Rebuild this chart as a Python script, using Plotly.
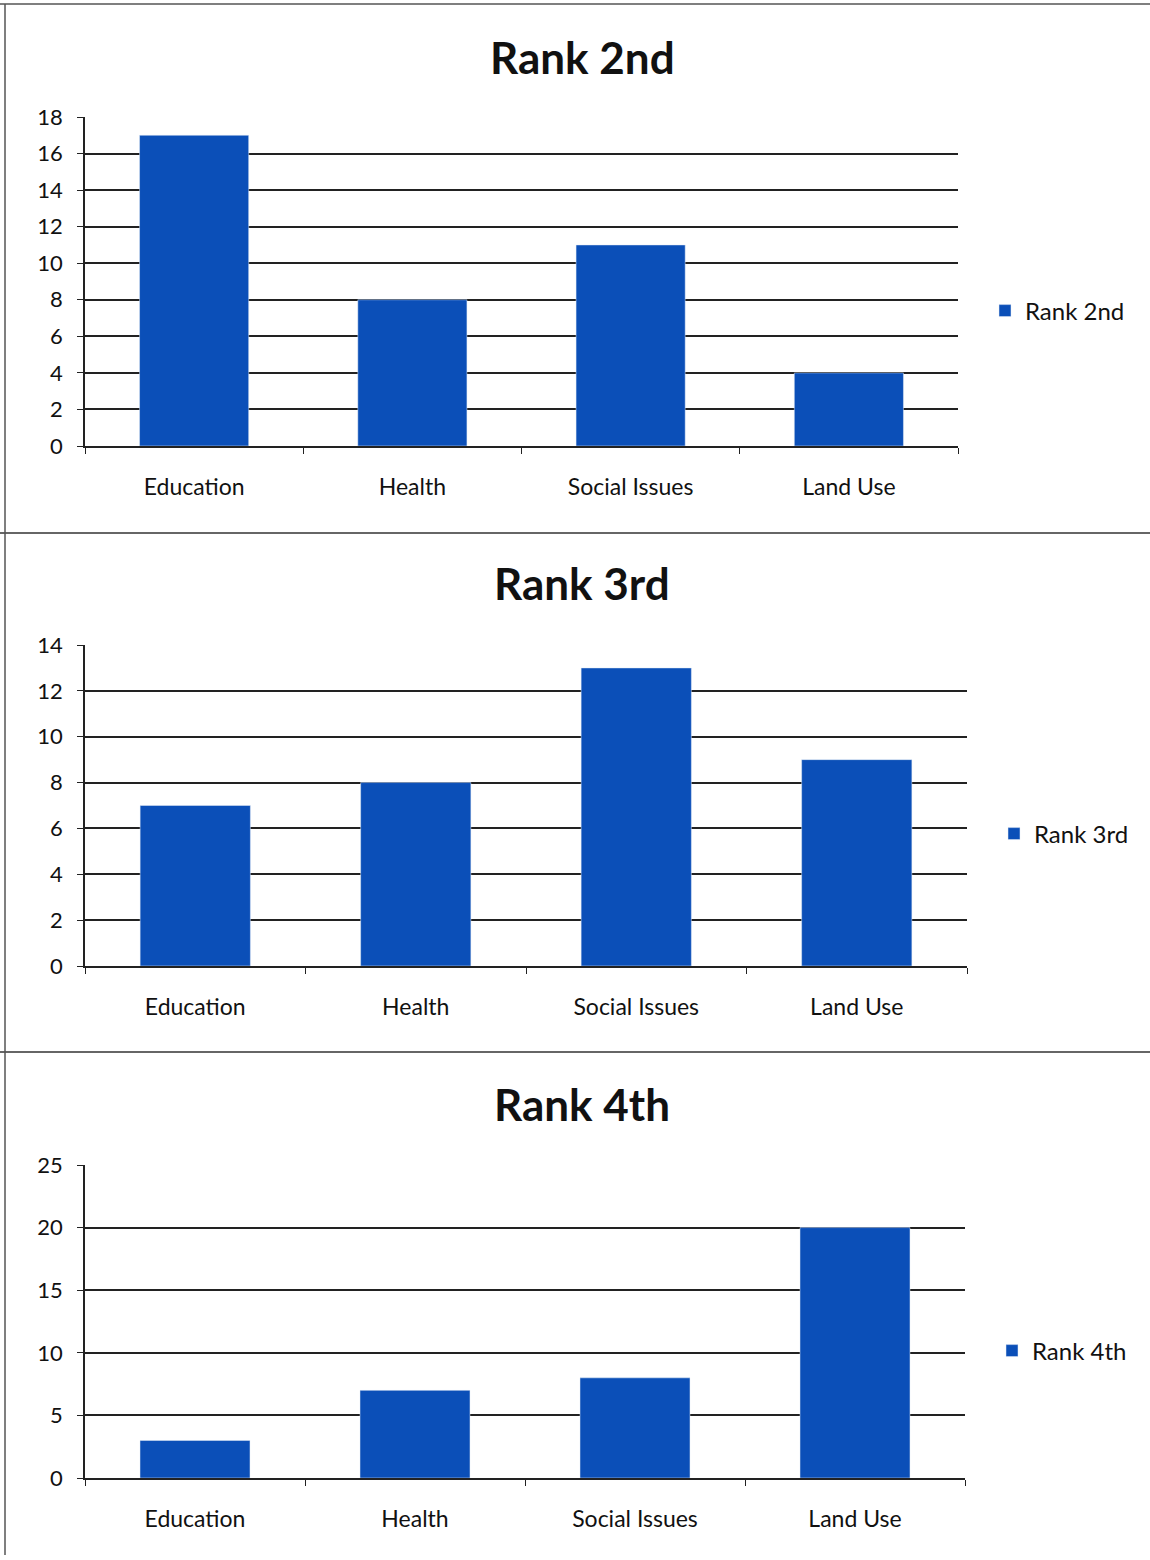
import plotly.graph_objects as go

categories = ["Education", "Health", "Social Issues", "Land Use"]
rank2 = [17, 8, 11, 4]
rank3 = [7, 8, 13, 9]
rank4 = [3, 7, 8, 20]
titles = ["Rank 2nd", "Rank 3rd", "Rank 4th"]

W, H = 1150, 1560
BAR = "#0B4FB8"
FONT = "Lato, Open Sans, sans-serif"

def px_y(y):
    return 1 - y / H

def px_x(x):
    return x / W

panels = [
    dict(vals=rank2, title=titles[0], x=(85, 958), y=(117, 446), ymax=18, dtick=2, ty=57, ly=311, lx=985),
    dict(vals=rank3, title=titles[1], x=(85, 967), y=(645, 966), ymax=14, dtick=2, ty=583, ly=834, lx=994),
    dict(vals=rank4, title=titles[2], x=(85, 965), y=(1165, 1478), ymax=25, dtick=5, ty=1104, ly=1351, lx=992),
]

fig = go.Figure()
annotations = []
layout = {}
for i, p in enumerate(panels, start=1):
    sfx = "" if i == 1 else str(i)
    leg = "legend" if i == 1 else f"legend{i}"
    fig.add_trace(go.Bar(
        x=categories, y=p["vals"], name=p["title"], marker_color=BAR,
        width=0.5, xaxis=f"x{sfx}", yaxis=f"y{sfx}", legend=leg, showlegend=True,
    ))
    layout[f"xaxis{sfx}"] = dict(
        domain=[px_x(p["x"][0]), px_x(p["x"][1])], anchor=f"y{sfx}",
        showline=True, linecolor="#222", linewidth=1.5,
        ticks="outside", tickson="boundaries", ticklen=6, tickcolor="#222",
        tickfont=dict(family=FONT, size=23, color="#111"), showgrid=False,
        ticklabelstandoff=20, automargin=False,
    )
    layout[f"yaxis{sfx}"] = dict(
        domain=[px_y(p["y"][1]), px_y(p["y"][0])], anchor=f"x{sfx}",
        range=[0, p["ymax"]], dtick=p["dtick"], showline=True, linecolor="#222", linewidth=1.5,
        ticks="outside", ticklen=6, tickcolor="#222", showgrid=True, gridcolor="#222", gridwidth=1.5,
        tickfont=dict(family=FONT, size=22, color="#111"), zeroline=False,
        ticklabelstandoff=10, automargin=False,
    )
    layout[leg] = dict(
        x=px_x(p["lx"]), y=px_y(p["ly"]), xanchor="left", yanchor="middle",
        font=dict(family=FONT, size=24, color="#111"), bgcolor="rgba(0,0,0,0)",
        itemwidth=30,
    )
    annotations.append(dict(
        text=f"<b>{p['title']}</b>", x=px_x(582), y=px_y(p["ty"]), xref="paper", yref="paper",
        xanchor="center", yanchor="middle", showarrow=False,
        font=dict(family=FONT, size=44, color="#111"),
    ))

shapes = [
    dict(type="line", xref="paper", yref="paper", x0=0, x1=1, y0=px_y(4), y1=px_y(4), line=dict(color="#555", width=1.5)),
    dict(type="line", xref="paper", yref="paper", x0=0, x1=1, y0=px_y(533), y1=px_y(533), line=dict(color="#333", width=1.5)),
    dict(type="line", xref="paper", yref="paper", x0=0, x1=1, y0=px_y(1052), y1=px_y(1052), line=dict(color="#333", width=1.5)),
    dict(type="line", xref="paper", yref="paper", x0=px_x(5), x1=px_x(5), y0=px_y(4), y1=px_y(1555), line=dict(color="#555", width=1.5)),
]

fig.update_layout(
    width=W, height=H, margin=dict(l=0, r=0, t=0, b=0),
    plot_bgcolor="white", paper_bgcolor="white",
    annotations=annotations, shapes=shapes, bargap=0.5,
    **layout,
)
fig.write_html("out.html", config={"displayModeBar": False},
               post_script="document.body.style.margin='0';")
